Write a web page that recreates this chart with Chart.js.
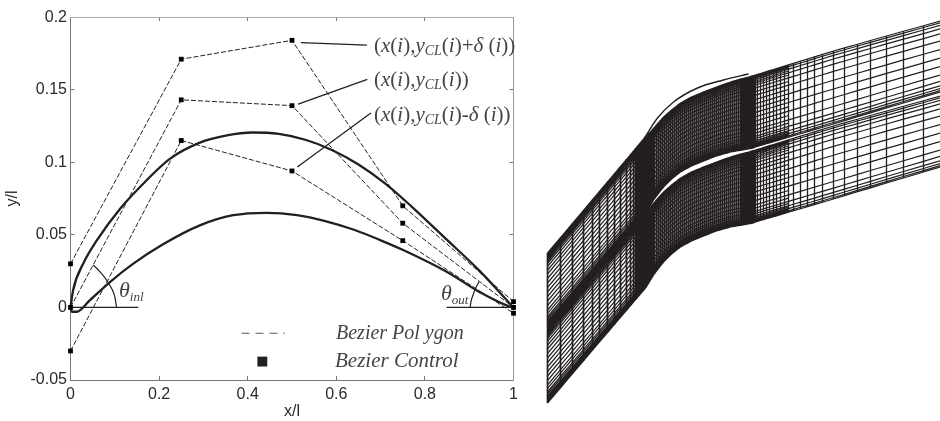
<!DOCTYPE html>
<html>
<head>
<meta charset="utf-8">
<script src="https://cdn.jsdelivr.net/npm/chart.js@4"></script>
<style>
html,body{margin:0;padding:0;background:#fff;overflow:hidden}
canvas{position:absolute;top:0}
#blade{left:0}
#mesh{left:540px}
</style>
</head>
<body>
<canvas id="blade" width="540" height="421"></canvas>
<canvas id="mesh" width="400" height="421"></canvas>
<script>
// left plot, values
const xTicks=[0,0.2,0.4,0.6,0.8,1];
const yTicks=[-0.05,0,0.05,0.1,0.15,0.2];
const polyX=[0,0.25,0.5,0.75,1];
const polyUpper=[0.03,0.171,0.184,0.07,0.004];
const polyMiddle=[0,0.143,0.139,0.058,0];
const polyLower=[-0.03,0.115,0.094,0.046,-0.004];

const suctionX=[0,0.006,0.03,0.059,0.112,0.157,0.225,0.292,0.353,0.41,0.47,0.53,0.59,0.65,0.71,0.77,0.85,0.924,1];
const suctionY=[0,0.012,0.031,0.046,0.068,0.083,0.1025,0.1135,0.1185,0.1205,0.1195,0.1155,0.1085,0.0985,0.0855,0.0695,0.0465,0.025,0];
const pressureX=[0,0.003,0.014,0.044,0.089,0.141,0.209,0.292,0.367,0.443,0.511,0.575,0.64,0.699,0.751,0.85,0.924,0.992,1];
const pressureY=[0,-0.003,-0.003,0.005,0.0175,0.03,0.0435,0.0565,0.0635,0.0652,0.0636,0.0595,0.0535,0.0464,0.0395,0.0244,0.0105,0.0005,0];

const leaderUpperX=[0.52,0.669],leaderUpperY=[0.1824,0.1807];
const leaderMiddleX=[0.514,0.67],leaderMiddleY=[0.14,0.1571];
const leaderLowerX=[0.512,0.678],leaderLowerY=[0.0968,0.134];
const inletLineX=[0,0.153],inletLineY=[0,0];
const inletArcX=[0.0515,0.0668,0.08,0.092,0.1,0.104];
const inletArcY=[0.0292,0.0245,0.0195,0.0135,0.0075,0];
const outletLineX=[0.849,1],outletLineY=[0,0];
const outletArcX=[0.902,0.904,0.908,0.915,0.922];
const outletArcY=[0,0.004,0.008,0.0135,0.0177];
const keyLineX=[0.386,0.484],keyLineY=[-0.0178,-0.0178];
const keyMarkX=[0.433],keyMarkY=[-0.0373];

// right plot, mesh walls and stations (units are picture pixels)
const upperWallX=[547,644,650,656,663,671,680,691,703,716,730,740,748,755,833,886,940];
const upperWallY=[253,138,132,125,117,110,103,97,92,87,82,79,77,75,51,36,21];
const lowerWallX=[547,645,653,663,671,680,691,703,716,730,742,753,755,833,886,940];
const lowerWallY=[328,213,200,187,179,172,166,161,156,152,150,148,147,124,108,92];
const upperBladeX=[644,657,673,697,723,748];
const upperBladeY=[138,118,102,88,80,74];
const passageShift=[0,75];
const spanLines=[0,0.025,0.06,0.11,0.18,0.28,0.4,0.52,0.64,0.76,0.85,0.91,0.95,0.98,1];
const extraSpanLines=[0.012,0.04,0.085,0.14,0.23,0.34,0.46,0.58,0.7,0.805,0.88,0.93,0.965,0.99];
const extraSpanEnd=788;
const inletStations=[547,560,572,583,592,599,607,614,620,626,630,633,635,636,637,638,639,640,641,642,643,644,645,646,647,648,649,650,651,652,653,654];
const bladeStations=[656,658,660,662,664,666,668,670,672,674,676,678,680,682,684,686,688,690,692,694,696,698,700,702,704,706,708,710,712,714,716,718,720,722,724,726,728,730,732,734,736,738,740];
const exitStations=[741,742,743,744,745,746,747,748,749,750,751,752,753,754,755,757,760,763,766,769,773,776,780,784,788,793,800,807,814,822,833,844,857,870,886,903,923];
const meshEnd=[940];

function toPoints(xs,ys){
return xs.map((x,i)=>({x:x,y:ys[i]}));
}

function wallAt(xs,ys,x){
for(let i=1;i<xs.length;i++){
if(x<=xs[i]){
const t=(x-xs[i-1])/(xs[i]-xs[i-1]);
return ys[i-1]+t*(ys[i]-ys[i-1]);
}
}
return ys[ys.length-1];
}

function lineSet(xs,ys,width,dash,color){
return {
data:toPoints(xs,ys),
showLine:true,
borderColor:color||'#231f20',
borderWidth:width,
borderDash:dash||[],
pointRadius:0,
tension:0,
clip:false
};
}

function curveSet(xs,ys,width){
return Object.assign(lineSet(xs,ys,width),{cubicInterpolationMode:'monotone'});
}

function polySet(ys){
return {
data:toPoints(polyX,ys),
showLine:true,
borderColor:'#222',
borderWidth:1,
borderDash:[5,2],
pointStyle:'rect',
pointRadius:3.4,
pointBackgroundColor:'#000',
pointBorderWidth:0,
tension:0,
clip:false
};
}

// text of the left plot, each run: text, italic, size, drop below the baseline
const formulaUpper=[['(',0,21,0],['x',1,21,0],['(',0,21,0],['i',1,21,0],['),',0,21,0],['y',1,21,0],['CL',1,14,3],['(',0,21,0],['i',1,21,0],[')+',0,21,0],['δ',1,21,0],[' (',0,21,0],['i',1,21,0],['))',0,21,0]];
const formulaMiddle=[['(',0,21,0],['x',1,21,0],['(',0,21,0],['i',1,21,0],['),',0,21,0],['y',1,21,0],['CL',1,14,3],['(',0,21,0],['i',1,21,0],['))',0,21,0]];
const formulaLower=[['(',0,21,0],['x',1,21,0],['(',0,21,0],['i',1,21,0],['),',0,21,0],['y',1,21,0],['CL',1,14,3],['(',0,21,0],['i',1,21,0],[')-',0,21,0],['δ',1,21,0],[' (',0,21,0],['i',1,21,0],['))',0,21,0]];
const thetaInl=[['θ',1,22,0],['inl',1,13,4]];
const thetaOut=[['θ',1,22,0],['out',1,13,4]];
const keyPolygon=[['Bezier Pol ygon',1,20,0]];
const keyControl=[['Bezier Control',1,21,0]];

const textItems=[
{runs:formulaUpper,left:374,base:52},
{runs:formulaMiddle,left:374,base:86},
{runs:formulaLower,left:374,base:121},
{runs:thetaInl,left:119,base:297},
{runs:thetaOut,left:441,base:300},
{runs:keyPolygon,left:336,base:339},
{runs:keyControl,left:335,base:367}
];

const textPlugin={
id:'textPlugin',
afterDraw(chart){
const ctx=chart.ctx;
ctx.save();
ctx.fillStyle='#444';
ctx.textBaseline='alphabetic';
textItems.forEach(item=>{
let x=item.left;
item.runs.forEach(r=>{
ctx.font=(r[1]?'italic ':'')+r[2]+'px "Liberation Serif"';
ctx.fillText(r[0],x,item.base+r[3]);
x+=ctx.measureText(r[0]).width;
});
});
ctx.restore();
}
};

function axisSet(position,ticks,showLabels,border,extra){
const horizontal=position==='top'||position==='bottom';
return Object.assign({
type:'linear',
position:position,
min:ticks[0],
max:ticks[ticks.length-1],
afterBuildTicks(scale){
scale.ticks=ticks.map(v=>({value:v}));
},
afterFit(scale){
if(horizontal){scale.height=position==='bottom'?41:0;}
else{scale.width=position==='left'?70.5:0;}
},
border:{display:true,color:border,width:1},
grid:{drawOnChartArea:false,drawTicks:true,tickLength:-4,color:'#777',lineWidth:1},
ticks:{
display:showLabels,
color:'#2a2a2a',
padding:position==='bottom'?9:7.5,
maxRotation:0,
autoSkip:false,
font:{family:'"Liberation Sans"',size:16},
callback(v){return String(v);}
}
},extra||{});
}

new Chart(document.getElementById('blade'),{
type:'scatter',
data:{
datasets:[
polySet(polyUpper),
polySet(polyMiddle),
polySet(polyLower),
curveSet(suctionX,suctionY,2.3),
curveSet(pressureX,pressureY,2.3),
lineSet(leaderUpperX,leaderUpperY,1.3),
lineSet(leaderMiddleX,leaderMiddleY,1.3),
lineSet(leaderLowerX,leaderLowerY,1.3),
lineSet(inletLineX,inletLineY,1.4),
curveSet(inletArcX,inletArcY,1.2),
lineSet(outletLineX,outletLineY,1.4),
curveSet(outletArcX,outletArcY,1.2),
lineSet(keyLineX,keyLineY,1.2,[8,6],'#555'),
{
data:toPoints(keyMarkX,keyMarkY),
pointStyle:'rect',
pointRadius:7,
pointBackgroundColor:'#231f20',
pointBorderWidth:0,
clip:false
}
]
},
options:{
responsive:false,
animation:false,
layout:{padding:{top:16.5,right:26.5,left:0,bottom:0}},
plugins:{legend:{display:false},tooltip:{enabled:false}},
scales:{
x:axisSet('bottom',xTicks,true,'#777',{title:{display:true,text:'x/l',color:'#2a2a2a',padding:0,font:{family:'"Liberation Sans"',size:16}}}),
y:axisSet('left',yTicks,true,'#777',{title:{display:true,text:'y/l',color:'#2a2a2a',padding:{top:3,bottom:0},font:{family:'"Liberation Sans"',size:16}}}),
x2:axisSet('top',xTicks,false,'#aaa'),
y2:axisSet('right',yTicks,false,'#999')
}
},
plugins:[textPlugin]
});

// mesh lines: stations stand straight between the two walls, span lines follow the walls
function meshSet(pts,width){
return {
data:pts,
showLine:true,
spanGaps:false,
borderColor:'#231f20',
borderWidth:width,
pointRadius:0,
tension:0
};
}

function meshDatasets(shift){
const stations=inletStations.concat(bladeStations,exitStations);
const ups=x=>wallAt(upperWallX,upperWallY,x)+shift[1];
const lows=x=>wallAt(lowerWallX,lowerWallY,x)+shift[1];
const across=list=>{
const pts=[];
list.forEach(x=>{
pts.push({x:x,y:ups(x)},{x:x,y:lows(x)},{x:x,y:null});
});
return pts;
};
const along=[];
spanLines.forEach(f=>{
stations.concat(meshEnd).forEach(x=>{
along.push({x:x,y:ups(x)+f*(lows(x)-ups(x))});
});
along.push({x:940,y:null});
});
extraSpanLines.forEach(f=>{
stations.filter(x=>x<=extraSpanEnd).forEach(x=>{
along.push({x:x,y:ups(x)+f*(lows(x)-ups(x))});
});
along.push({x:extraSpanEnd,y:null});
});
return [
meshSet(across(inletStations),1.7),
meshSet(across(bladeStations),1.7),
meshSet(across(exitStations),1.3),
meshSet(along,1.2)
];
}

new Chart(document.getElementById('mesh'),{
type:'scatter',
data:{
datasets:meshDatasets([0,0]).concat(meshDatasets(passageShift),[
curveSet(upperBladeX,upperBladeY,1.4)
])
},
options:{
responsive:false,
animation:false,
layout:{padding:0},
plugins:{legend:{display:false},tooltip:{enabled:false}},
scales:{
x:{type:'linear',display:false,min:539.5,max:939.5},
y:{type:'linear',display:false,reverse:true,min:0,max:421}
}
}
});
</script>
</body>
</html>
